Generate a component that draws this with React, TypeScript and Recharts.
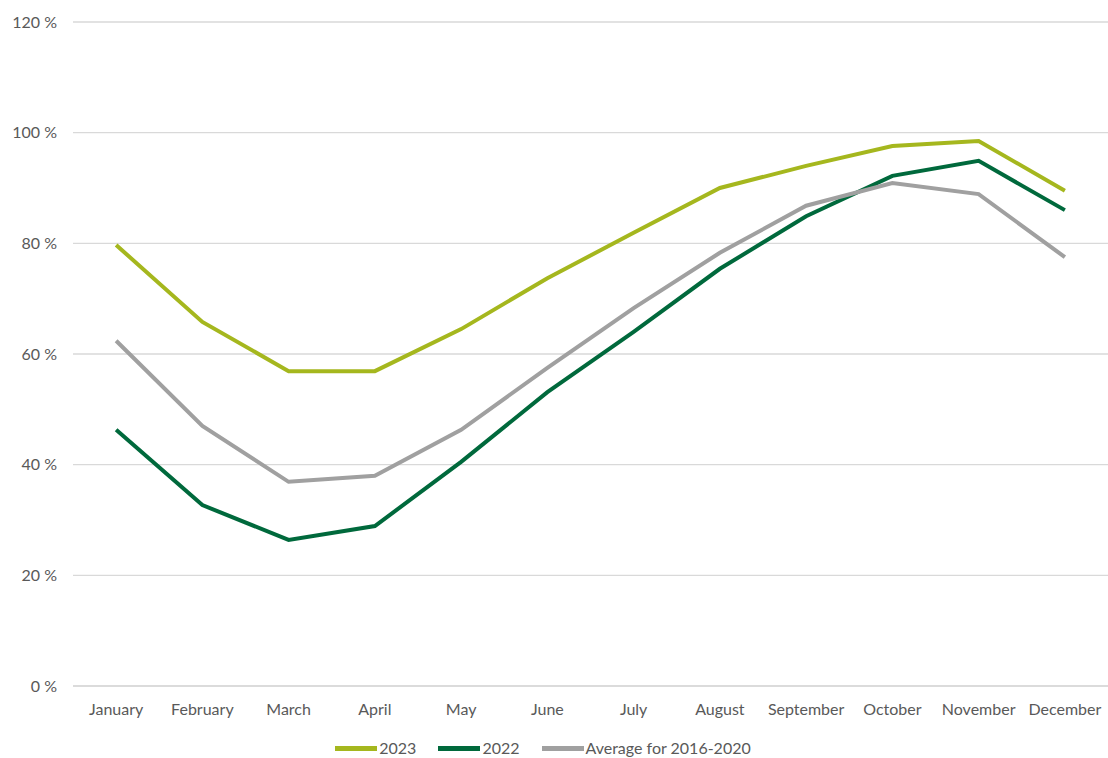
import { LineChart, Line, XAxis, YAxis, CartesianGrid, Legend } from 'recharts';

const months = [
  'January', 'February', 'March', 'April', 'May', 'June',
  'July', 'August', 'September', 'October', 'November', 'December',
];

const values2023 = [79.7, 65.8, 56.9, 56.9, 64.5, 73.7, 81.9, 90.0, 94.0, 97.6, 98.5, 89.5];
const values2022 = [46.3, 32.7, 26.4, 28.9, 40.5, 53.1, 64.0, 75.4, 84.9, 92.2, 94.9, 86.0];
const valuesAvg = [62.4, 47.0, 36.9, 38.0, 46.3, 57.5, 68.3, 78.3, 86.8, 90.9, 88.9, 77.5];

const yTicks = [0, 20, 40, 60, 80, 100, 120];
const legendOrder = ['2023', '2022', 'Average for 2016-2020'];

const chartData = months.map((m, i) => ({
  month: m,
  y2023: values2023[i],
  y2022: values2022[i],
  avg: valuesAvg[i],
}));

const font = 'Lato, "Open Sans", sans-serif';

function LegendContent({ payload }: any) {
  const items = [...(payload || [])].sort(
    (a: any, b: any) => legendOrder.indexOf(a.value) - legendOrder.indexOf(b.value)
  );
  return (
    <div style={{ display: 'flex', justifyContent: 'center', fontFamily: font, fontSize: 16, lineHeight: '20px', color: '#595959' }}>
      {items.map((item: any) => (
        <div key={item.value} style={{ display: 'flex', alignItems: 'center', marginRight: 22 }}>
          <span style={{ display: 'inline-block', width: 42, height: 5, background: item.color, marginRight: 2 }} />
          <span>{item.value}</span>
        </div>
      ))}
    </div>
  );
}

export default function App() {
  return (
    <div style={{ position: 'absolute', top: 0, left: 0, background: '#fff', width: 1108, height: 758 }}>
      <LineChart width={1108} height={758} data={chartData} margin={{ top: 22, right: 0, left: 0, bottom: 0 }}>
        <CartesianGrid vertical={false} stroke="#d9d9d9" strokeWidth={1.3} />
        <XAxis
          dataKey="month"
          scale="band"
          height={52}
          axisLine={{ stroke: '#d9d9d9', strokeWidth: 1.3 }}
          tickLine={false}
          tickMargin={12}
          interval={0}
          tick={{ fill: '#595959', fontSize: 16, fontFamily: font }}
        />
        <YAxis
          width={73}
          domain={[0, 120]}
          ticks={yTicks}
          axisLine={false}
          tickLine={false}
          tickMargin={10}
          tickFormatter={(v: number) => `${v} %`}
          tick={{ fill: '#595959', fontSize: 16, fontFamily: font }}
        />
        <Legend
          verticalAlign="bottom"
          height={20}
          content={<LegendContent />}
          wrapperStyle={{ top: 738, left: 0, width: 1108, height: 20 }}
        />
        <Line type="linear" dataKey="y2023" name="2023" stroke="#a5b71e" strokeWidth={4} dot={false} isAnimationActive={false} />
        <Line type="linear" dataKey="y2022" name="2022" stroke="#00693c" strokeWidth={4} dot={false} isAnimationActive={false} />
        <Line type="linear" dataKey="avg" name="Average for 2016-2020" stroke="#a0a0a0" strokeWidth={4} dot={false} isAnimationActive={false} />
      </LineChart>
    </div>
  );
}
